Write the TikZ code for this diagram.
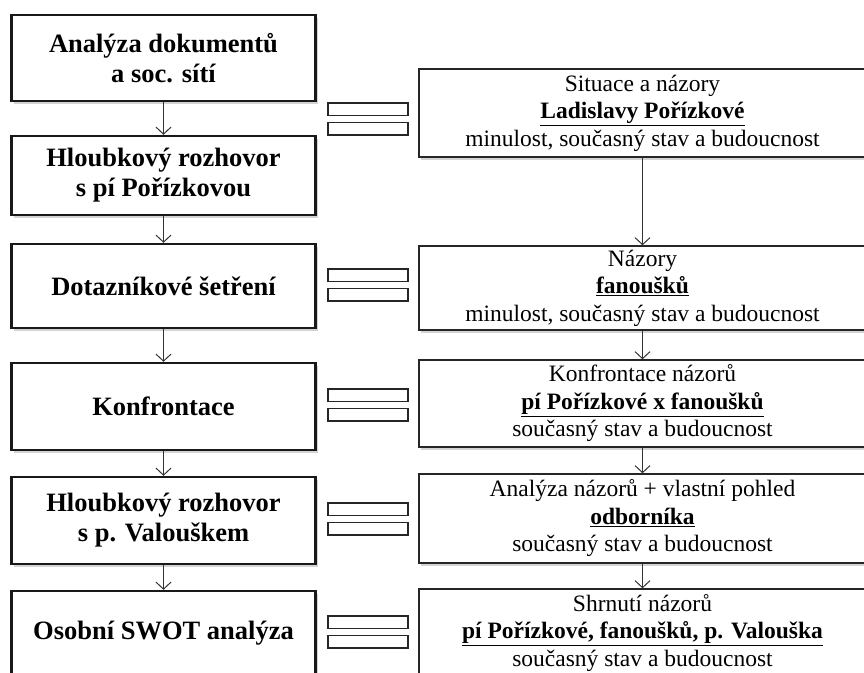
\documentclass[tikz,border=0pt]{standalone}
\usepackage{fontspec}
\setmainfont{Liberation Serif}
\usepackage{tikz}
\usetikzlibrary{arrows.meta,positioning,shadows}
\tikzset{krok/.style={draw=black!90,line width=2.4pt,fill=white,align=center,
    minimum width=304pt,inner sep=2pt,
    font=\fontsize{26.5}{30}\selectfont\bfseries,
    drop shadow={shadow xshift=2pt,shadow yshift=-2.5pt,opacity=0.35}}}
\tikzset{vysledek/.style={draw=black!85,line width=1.4pt,fill=white,align=center,
    minimum width=447pt,inner sep=2pt,
    font=\fontsize{23.5}{27.5}\selectfont,
    drop shadow={shadow xshift=2pt,shadow yshift=-2.5pt,opacity=0.35}}}
\tikzset{rovnitko/.style={draw=black!85,line width=1.4pt}}

\begin{document}
\begin{tikzpicture}[x=1pt,y=-1pt,>={Straight Barb[length=7pt,width=15pt]}]
\useasboundingbox (0,0) rectangle (864,672);
\clip (0,0) rectangle (864,672);
    % left column
    \node[krok,minimum height=86pt] (a1) at (163.5,58) {Analýza dokumentů\\a soc. sítí};
    \node[krok,minimum height=79pt] (a2) at (163.5,175.5) {Hloubkový rozhovor\\s pí Pořízkovou};
    \node[krok,minimum height=84pt] (a3) at (163.5,286) {Dotazníkové šetření};
    \node[krok,minimum height=87pt] (a4) at (163.5,406.5) {Konfrontace};
    \node[krok,minimum height=87pt] (a5) at (163.5,520.5) {Hloubkový rozhovor\\s p. Valouškem};
    \node[krok,minimum height=84pt] (a6) at (163.5,633) {Osobní SWOT analýza};
    % right column
    \node[vysledek,minimum height=88pt] (b1) at (642.5,113) {Situace a názory\\\underline{\textbf{Ladislavy Pořízkové}}\\minulost, současný stav a budoucnost};
    \node[vysledek,minimum height=84pt] (b2) at (642.5,288) {Názory\\\underline{\textbf{fanoušků}}\\minulost, současný stav a budoucnost};
    \node[vysledek,minimum height=87pt] (b3) at (642.5,403.5) {Konfrontace názorů\\\underline{\textbf{pí Pořízkové x fanoušků}}\\současný stav a budoucnost};
    \node[vysledek,minimum height=89pt] (b4) at (642.5,518.5) {Analýza názorů + vlastní pohled\\\underline{\textbf{odborníka}}\\současný stav a budoucnost};
    \node[vysledek,minimum height=88pt] (b5) at (642.5,633) {Shrnutí názorů\\\underline{\textbf{pí Pořízkové, fanoušků, p. Valouška}}\\současný stav a budoucnost};
    % arrows
    \foreach \i/\j in {a1/a2,a2/a3,a3/a4,a4/a5,a5/a6,b1/b2,b2/b3,b3/b4,b4/b5}
        \path[->,draw=black!80,line width=1pt] (\i) edge (\j);
    % equals signs
    \foreach \y in {103,269,389,503,616} {
        \draw[rovnitko] (328,\y) rectangle (408,\y+12.5);
        \draw[rovnitko] (328,\y+19.5) rectangle (408,\y+32);
    }
\end{tikzpicture}
\end{document}
